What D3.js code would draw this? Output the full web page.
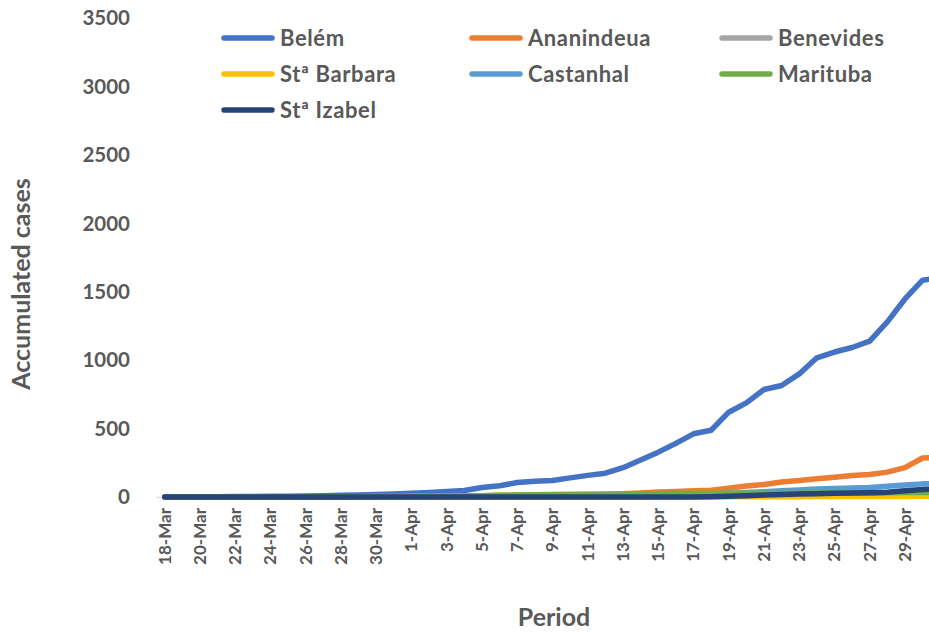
<!DOCTYPE html>
<html>
<head>
<meta charset="utf-8">
<script src="https://cdn.jsdelivr.net/npm/d3@7"></script>
<style>
  body { margin: 0; background: #fff; }
  svg { display: block; font-family: Lato, "Open Sans", sans-serif; }
</style>
</head>
<body>
<svg id="chart" width="929" height="633"></svg>
<script>
// days on the category axis
var dates = ["18-Mar","19-Mar","20-Mar","21-Mar","22-Mar","23-Mar","24-Mar","25-Mar","26-Mar","27-Mar",
  "28-Mar","29-Mar","30-Mar","31-Mar","1-Apr","2-Apr","3-Apr","4-Apr","5-Apr","6-Apr",
  "7-Apr","8-Apr","9-Apr","10-Apr","11-Apr","12-Apr","13-Apr","14-Apr","15-Apr","16-Apr",
  "17-Apr","18-Apr","19-Apr","20-Apr","21-Apr","22-Apr","23-Apr","24-Apr","25-Apr","26-Apr",
  "27-Apr","28-Apr","29-Apr","30-Apr","1-May"];

var tickDates = ["18-Mar","20-Mar","22-Mar","24-Mar","26-Mar","28-Mar","30-Mar","1-Apr","3-Apr","5-Apr",
  "7-Apr","9-Apr","11-Apr","13-Apr","15-Apr","17-Apr","19-Apr","21-Apr","23-Apr","25-Apr","27-Apr","29-Apr"];

var yTicks = [0, 500, 1000, 1500, 2000, 2500, 3000, 3500];

var cities = ["Belém","Ananindeua","Benevides","Stª Barbara","Castanhal","Marituba","Stª Izabel"];
var colors = ["#4472C4","#ED7D31","#A5A5A5","#FFC000","#5B9BD5","#70AD47","#264478"];

// accumulated cases per city
var belem = [1,1,2,2,3,4,5,6,8,10,12,15,18,22,27,33,40,48,70,82,
  106,116,120,140,158,174,214,270,328,392,462,488,620,688,786,815,900,1018,1060,1093,
  1140,1280,1448,1585,1605];
var ananindeua = [0,0,0,0,0,0,1,1,1,1,2,2,3,4,5,6,7,8,10,12,
  14,16,17,18,19,21,24,30,37,40,45,50,65,80,92,110,120,134,145,158,
  165,182,215,285,290];
var benevides = [0,0,0,0,0,0,0,0,0,0,0,0,0,0,1,1,1,1,1,1,
  2,2,2,2,3,3,3,4,4,4,5,5,5,6,6,7,7,8,8,9,
  9,10,11,12,12];
var staBarbara = [0,0,0,0,0,0,0,0,0,0,0,0,0,0,0,0,0,0,0,0,
  0,0,0,0,0,0,0,0,1,1,1,1,1,2,2,2,2,3,3,3,
  3,4,4,5,5];
var castanhal = [0,0,0,0,0,0,0,0,0,0,0,1,1,1,2,2,3,3,4,5,
  6,7,9,10,11,12,13,15,17,19,21,24,28,32,38,45,52,58,62,66,
  70,78,88,96,100];
var marituba = [0,0,0,0,0,0,0,0,1,1,2,2,3,4,5,6,7,8,10,12,
  14,16,18,19,20,21,22,23,24,25,26,26,27,27,28,28,28,29,29,30,
  30,31,32,33,34];
var staIzabel = [0,0,0,0,0,0,0,0,0,0,0,0,0,0,0,0,0,0,0,0,
  0,0,0,0,0,0,0,0,0,0,0,2,5,9,14,18,22,24,27,29,
  31,34,45,55,58];

var series = [belem, ananindeua, benevides, staBarbara, castanhal, marituba, staIzabel];

var svg = d3.select("#chart");
var textColor = "#595959";

var xScale = d3.scaleBand().domain(dates).range([156, 949]);
var yScale = d3.scaleLinear().domain([0, 3500]).range([497, 18.3]);

// y axis, labels only
var yAxis = d3.axisLeft(yScale).tickValues(yTicks).tickFormat(d3.format("d"))
    .tickSize(0).tickPadding(26);
svg.append("g")
    .attr("transform", "translate(156,0)")
    .call(yAxis)
    .call(function(g) { g.select(".domain").remove(); })
    .selectAll("text")
    .attr("fill", textColor)
    .attr("font-size", "20.5px")
    .attr("font-weight", "bold")
    .attr("font-family", "Lato, sans-serif");

// x axis with rotated day labels
var xAxis = d3.axisBottom(xScale).tickValues(tickDates).tickSize(0).tickSizeOuter(0);
var gx = svg.append("g")
    .attr("transform", "translate(0," + yScale(0) + ")")
    .call(xAxis);
gx.select(".domain").attr("stroke", "#D9D9D9").attr("stroke-width", 1.5);
gx.selectAll("text")
    .attr("fill", textColor)
    .attr("font-size", "17px")
    .attr("font-weight", "bold")
    .attr("font-family", "Lato, sans-serif")
    .attr("text-anchor", "end")
    .attr("transform", "rotate(-90)")
    .attr("x", -11)
    .attr("y", 0)
    .attr("dy", "0.35em");

// lines
var line = d3.line()
    .x(function(d, i) { return xScale(dates[i]) + xScale.bandwidth() / 2; })
    .y(function(d) { return yScale(d); });

svg.append("g").selectAll("path")
    .data(series)
    .enter().append("path")
    .attr("d", line)
    .attr("fill", "none")
    .attr("stroke", function(d, i) { return colors[i]; })
    .attr("stroke-width", 5.5)
    .attr("stroke-linejoin", "round")
    .attr("stroke-linecap", "round");

// legend, 3 per row
var legend = svg.append("g").selectAll("g")
    .data(cities)
    .enter().append("g")
    .attr("transform", function(d, i) {
        return "translate(" + [224, 472, 722][i % 3] + "," + (38 + Math.floor(i / 3) * 36) + ")";
    });
legend.append("line")
    .attr("x1", 0).attr("x2", 48)
    .attr("stroke", function(d, i) { return colors[i]; })
    .attr("stroke-width", 5.5)
    .attr("stroke-linecap", "round");
legend.append("text")
    .attr("x", 56)
    .attr("dy", "0.35em")
    .attr("fill", textColor)
    .attr("font-size", "22px")
    .attr("font-weight", "bold")
    .attr("letter-spacing", "0.6px")
    .text(function(d) { return d; });

// axis titles
svg.append("text")
    .attr("transform", "translate(30,284) rotate(-90)")
    .attr("text-anchor", "middle")
    .attr("fill", textColor)
    .attr("font-size", "25px")
    .attr("font-weight", "bold")
    .text("Accumulated cases");

svg.append("text")
    .attr("x", 554)
    .attr("y", 626)
    .attr("text-anchor", "middle")
    .attr("fill", textColor)
    .attr("font-size", "25px")
    .attr("font-weight", "bold")
    .text("Period");
</script>
</body>
</html>
